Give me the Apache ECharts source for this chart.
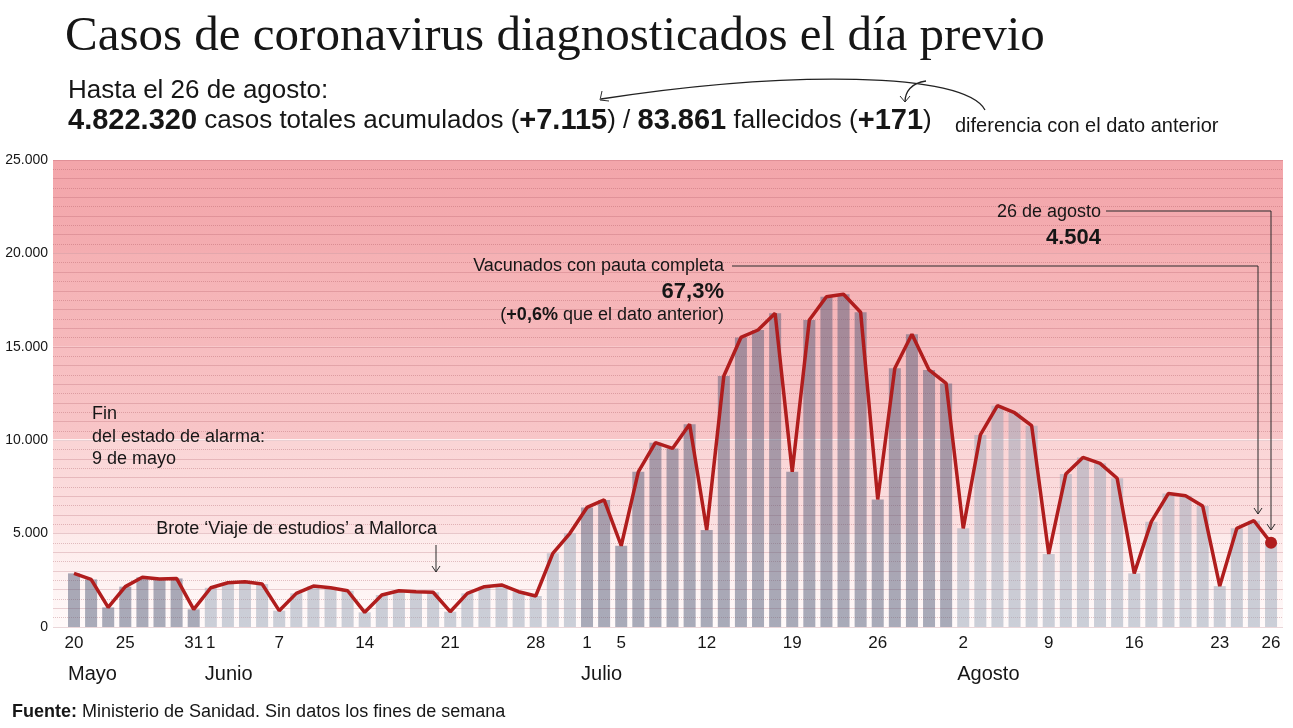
<!DOCTYPE html>
<html>
<head>
<meta charset="utf-8">
<script src="https://cdn.jsdelivr.net/npm/echarts@6/dist/echarts.min.js"></script>
<style>
html,body{margin:0;padding:0;background:#fff;}
#c{width:1293px;height:728px;}
</style>
</head>
<body>
<div id="c"></div>
<script>
const categories = [
'2021-05-20','2021-05-21','2021-05-24','2021-05-25','2021-05-26','2021-05-27','2021-05-28','2021-05-31',
'2021-06-01','2021-06-02','2021-06-03','2021-06-04','2021-06-07','2021-06-08','2021-06-09','2021-06-10','2021-06-11','2021-06-14','2021-06-15','2021-06-16','2021-06-17','2021-06-18','2021-06-21','2021-06-22','2021-06-23','2021-06-24','2021-06-25','2021-06-28','2021-06-29','2021-06-30',
'2021-07-01','2021-07-02','2021-07-05','2021-07-06','2021-07-07','2021-07-08','2021-07-09','2021-07-12','2021-07-13','2021-07-14','2021-07-15','2021-07-16','2021-07-19','2021-07-20','2021-07-21','2021-07-22','2021-07-23','2021-07-26','2021-07-27','2021-07-28','2021-07-29','2021-07-30',
'2021-08-02','2021-08-03','2021-08-04','2021-08-05','2021-08-06','2021-08-09','2021-08-10','2021-08-11','2021-08-12','2021-08-13','2021-08-16','2021-08-17','2021-08-18','2021-08-19','2021-08-20','2021-08-23','2021-08-24','2021-08-25','2021-08-26'];

const cases = [2870,2550,1050,2160,2660,2570,2600,945,
2100,2370,2420,2300,875,1800,2190,2100,1940,785,1710,1940,1890,1860,820,1800,2160,2250,1890,1660,3945,5015,
6400,6800,4350,8310,9870,9560,10850,5190,13435,15500,15900,16790,8310,16430,17680,17810,16850,6830,13850,15670,13760,13040,
5280,10280,11850,11470,10780,3910,8190,9080,8760,7960,2870,5640,7150,7030,6480,2190,5280,5690,4504];

const tickDates = ['2021-05-20','2021-05-25','2021-05-31','2021-06-01','2021-06-07','2021-06-14','2021-06-21','2021-06-28','2021-07-01','2021-07-05','2021-07-12','2021-07-19','2021-07-26','2021-08-02','2021-08-09','2021-08-16','2021-08-23','2021-08-26'];
const monthNames = ['Mayo','Junio','Julio','Agosto'];
const monthStartDates = ['2021-05-20','2021-06-01','2021-07-01','2021-08-02'];
const darkMonths = ['05','07'];

const SANS = '"Liberation Sans", Arial, sans-serif';
const SERIF = '"Liberation Serif", "Times New Roman", serif';
const fmt = v => String(v).replace(/\B(?=(\d{3})+(?!\d))/g, '.');

const chart = echarts.init(document.getElementById('c'));

function txt(x, y, text, size, opts) {
  opts = opts || {};
  const style = {
    text: text, x: x, y: y,
    fontSize: size, fontFamily: opts.family || SANS,
    fontWeight: opts.weight || 'normal',
    fill: '#161616', align: opts.align || 'left', verticalAlign: 'middle'
  };
  if (opts.rich) style.rich = opts.rich;
  return {type: 'text', z: 100, silent: true, style: style};
}
function line(points) {
  return {type: 'polyline', z: 100, silent: true, shape: {points: points}, style: {stroke: '#2b2b2b', lineWidth: 1, fill: null}};
}
const boldRich = (size) => ({b: {fontWeight: 'bold', fontSize: size, fontFamily: SANS, fill: '#161616'}});

const bandGrad = (a, b) => ({type: 'linear', x: 0, y: 0, x2: 0, y2: 1, colorStops: [{offset: 0, color: a}, {offset: 1, color: b}]});

const option = {
  animation: false,
  grid: [
    {left: 53, right: 10, top: 160, bottom: 101},
    {left: 65.45, right: 13.4, top: 160, bottom: 101}
  ],
  xAxis: [
    {type: 'value', gridIndex: 0, min: 0, max: 1, show: false},
    {type: 'category', gridIndex: 1, data: categories, boundaryGap: true,
     axisLine: {show: false}, axisTick: {show: false}, splitLine: {show: false},
     axisLabel: {interval: (i, v) => tickDates.indexOf(v) >= 0, formatter: v => String(parseInt(v.slice(8), 10)),
       fontSize: 17, fontFamily: SANS, color: '#161616', margin: 8, hideOverlap: false}},
    {type: 'category', gridIndex: 1, data: categories, boundaryGap: true, position: 'bottom', offset: 31,
     axisLine: {show: false}, axisTick: {show: false}, splitLine: {show: false},
     axisLabel: {interval: (i, v) => monthStartDates.indexOf(v) >= 0,
       formatter: v => '{m|' + monthNames[monthStartDates.indexOf(v)] + '}',
       rich: {m: {width: 12, align: 'left', fontSize: 20, fontFamily: SANS, color: '#161616'}},
       margin: 6, hideOverlap: false}}
  ],
  yAxis: [
    {type: 'value', gridIndex: 0, min: 0, max: 25000, interval: 5000,
     axisLine: {show: false}, axisTick: {show: false}, splitLine: {show: false},
     axisLabel: {formatter: v => fmt(v), fontSize: 14, fontFamily: SANS, color: '#161616', margin: 5}},
    {type: 'value', gridIndex: 0, min: 0, max: 25000, interval: 1000, z: 1.5,
     axisLine: {show: false}, axisTick: {show: false}, axisLabel: {show: false},
     splitLine: {show: true, lineStyle: {color: 'rgba(160,70,80,0.22)', width: 1}}},
    {type: 'value', gridIndex: 0, min: 0, max: 25000, interval: 500, z: 1.5,
     axisLine: {show: false}, axisTick: {show: false}, axisLabel: {show: false},
     splitLine: {show: true, lineStyle: {color: ['rgba(0,0,0,0)', 'rgba(160,70,80,0.3)'], width: 1, type: 'dotted'}}},
    {type: 'value', gridIndex: 1, min: 0, max: 25000, interval: 5000, show: false, splitLine: {show: false}}
  ],
  series: [
    {type: 'line', xAxisIndex: 0, yAxisIndex: 0, data: [], z: 0, silent: true,
     markArea: {silent: true, z: 0, data: [
       [{yAxis: 20000, itemStyle: {color: bandGrad('#f3a5aa', '#f4adb1')}}, {yAxis: 25000}],
       [{yAxis: 15000, itemStyle: {color: bandGrad('#f5b1b4', '#f6b9bc')}}, {yAxis: 20000}],
       [{yAxis: 10000, itemStyle: {color: bandGrad('#f7bdc0', '#f8c6c8')}}, {yAxis: 15000}],
       [{yAxis: 5000, itemStyle: {color: bandGrad('#fad4d5', '#fce1e2')}}, {yAxis: 10000}],
       [{yAxis: 0, itemStyle: {color: bandGrad('#fdeaea', '#fffafa')}}, {yAxis: 5000}]
     ]},
     markLine: {silent: true, z: 1.2, symbol: 'none', label: {show: false},
       lineStyle: {color: '#ffffff', width: 1.5, type: 'solid'}, data: [{yAxis: 10000}]}
    },
    {type: 'bar', name: 'Casos', xAxisIndex: 1, yAxisIndex: 3, data: cases, barWidth: 12, z: 2,
     itemStyle: {color: p => darkMonths.indexOf(categories[p.dataIndex].slice(5, 7)) >= 0 ? 'rgba(83,91,119,0.5)' : 'rgba(151,163,181,0.5)'}},
    {type: 'line', name: 'Casos línea', xAxisIndex: 1, yAxisIndex: 3, data: cases, z: 3,
     lineStyle: {color: '#b01d1d', width: 3.5}, itemStyle: {color: '#b01d1d'},
     symbol: 'circle', showSymbol: true,
     symbolSize: (v, p) => p.dataIndex === cases.length - 1 ? 12 : 0}
  ],
  graphic: [
    txt(65, 37, 'Casos de coronavirus diagnosticados el día previo', 49, {family: SERIF}),
    txt(68, 91, 'Hasta el 26 de agosto:', 26),
    txt(68, 121, '{b|4.822.320} casos totales acumulados ({b|+7.115}) / {b|83.861} fallecidos ({b|+171})', 26, {rich: boldRich(29)}),
    txt(955, 126, 'diferencia con el dato anterior', 20),
    {type: 'bezierCurve', z: 100, silent: true, shape: {x1: 985, y1: 110, cpx1: 965, cpy1: 72, cpx2: 790, cpy2: 70, x2: 601, y2: 99}, style: {stroke: '#222', lineWidth: 1.3, fill: null}},
    line([[602, 91], [600, 100], [609, 101]]),
    {type: 'bezierCurve', z: 100, silent: true, shape: {x1: 926, y1: 81, cpx1: 911, cpy1: 83, cpx2: 905, cpy2: 92, x2: 905, y2: 102}, style: {stroke: '#222', lineWidth: 1.3, fill: null}},
    line([[900, 96], [905, 102], [910, 96]]),
    txt(92, 414, 'Fin', 18),
    txt(92, 437, 'del estado de alarma:', 18),
    txt(92, 459, '9 de mayo', 18),
    txt(437, 529, 'Brote ‘Viaje de estudios’ a Mallorca', 18, {align: 'right'}),
    line([[436, 545], [436, 572]]),
    line([[432, 566], [436, 572], [440, 566]]),
    txt(724, 266, 'Vacunados con pauta completa', 18, {align: 'right'}),
    txt(724, 292, '67,3%', 22, {align: 'right', weight: 'bold'}),
    txt(724, 315, '({b|+0,6%} que el dato anterior)', 18, {align: 'right', rich: boldRich(18)}),
    line([[732, 266], [1258, 266], [1258, 514]]),
    line([[1254, 508], [1258, 514], [1262, 508]]),
    txt(1101, 212, '26 de agosto', 18, {align: 'right'}),
    txt(1101, 238, '4.504', 22, {align: 'right', weight: 'bold'}),
    line([[1106, 211], [1271, 211], [1271, 530]]),
    line([[1267, 524], [1271, 530], [1275, 524]]),
    txt(12, 712, '{b|Fuente:} Ministerio de Sanidad. Sin datos los fines de semana', 18, {rich: boldRich(18)})
  ]
};
chart.setOption(option);
</script>
</body>
</html>
